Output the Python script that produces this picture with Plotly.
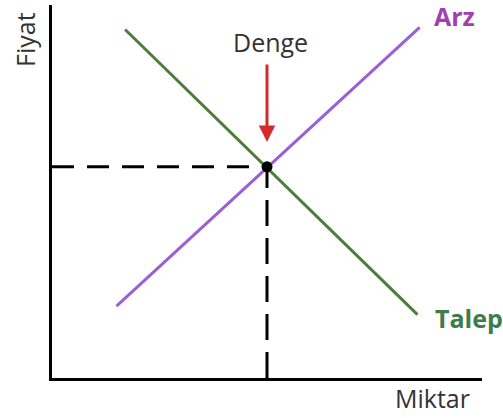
import plotly.graph_objects as go

# supply (Arz) and demand (Talep) lines, quantity vs price
arz_miktar = [1.5, 8.55]
arz_fiyat = [1.7, 8.3]
talep_miktar = [1.7, 8.5]
talep_fiyat = [8.25, 1.5]

# equilibrium (Denge)
denge_miktar = 5.0
denge_fiyat = 5.0

W, H = 503, 418
L, R, T, B = 52, 21, 5, 40
X_MAX = 10.0
Y_MAX = 8.83

pw = W - L - R
ph = H - T - B


def paper_x(px):
    return (px - L) / pw


def paper_y(py):
    return (H - B - py) / ph


fig = go.Figure()

# guide dashes
fig.add_trace(go.Scatter(
    x=[0, denge_miktar], y=[denge_fiyat, denge_fiyat], mode="lines",
    line=dict(color="black", width=3, dash="22px,13px"), hoverinfo="skip"))
fig.add_trace(go.Scatter(
    x=[denge_miktar, denge_miktar], y=[0, denge_fiyat], mode="lines",
    line=dict(color="black", width=3, dash="26px,12px"), hoverinfo="skip"))

fig.add_trace(go.Scatter(
    x=talep_miktar, y=talep_fiyat, mode="lines",
    line=dict(color="#4e7d3a", width=3), name="Talep"))
fig.add_trace(go.Scatter(
    x=arz_miktar, y=arz_fiyat, mode="lines",
    line=dict(color="#9a5fd6", width=3), name="Arz"))

fig.add_trace(go.Scatter(
    x=[denge_miktar], y=[denge_fiyat], mode="markers",
    marker=dict(color="black", size=11), name="Denge"))

font = "Open Sans"
fs = 25

# red arrow pointing at the equilibrium
fig.add_annotation(
    x=denge_miktar, y=paper_y(142) * Y_MAX, ax=0, ay=-79, text="",
    showarrow=True, arrowhead=2, arrowsize=1.1, arrowwidth=3,
    arrowcolor="#d42a2e")

labels = [
    ("Denge", 270, 42, "#333333", 0),
    ("<b>Arz</b>", 454, 16, "#a23fb0", 0),
    ("<b>Talep</b>", 469, 318, "#3d7d4b", 0),
    ("Miktar", 432, 398, "#333333", 0),
    ("Fiyat", 25, 39, "#333333", -90),
]
for txt, px, py, col, ang in labels:
    fig.add_annotation(xref="paper", yref="paper", x=paper_x(px), y=paper_y(py),
                       xanchor="center", yanchor="middle",
                       text=txt, showarrow=False, textangle=ang,
                       font=dict(family=font, size=fs, color=col))

fig.update_layout(
    width=W, height=H,
    margin=dict(l=L, r=R, t=T, b=B),
    plot_bgcolor="white", paper_bgcolor="white",
    showlegend=False,
    xaxis=dict(range=[0, X_MAX], showgrid=False, zeroline=False,
               showticklabels=False, ticks="", showline=True,
               linecolor="black", linewidth=3, fixedrange=True),
    yaxis=dict(range=[0, Y_MAX], showgrid=False, zeroline=False,
               showticklabels=False, ticks="", showline=True,
               linecolor="black", linewidth=3, fixedrange=True),
)

fig.write_html("out.html", config={"displayModeBar": False},
               post_script="document.body.style.margin='0';"
                           "document.body.style.overflow='hidden';")
